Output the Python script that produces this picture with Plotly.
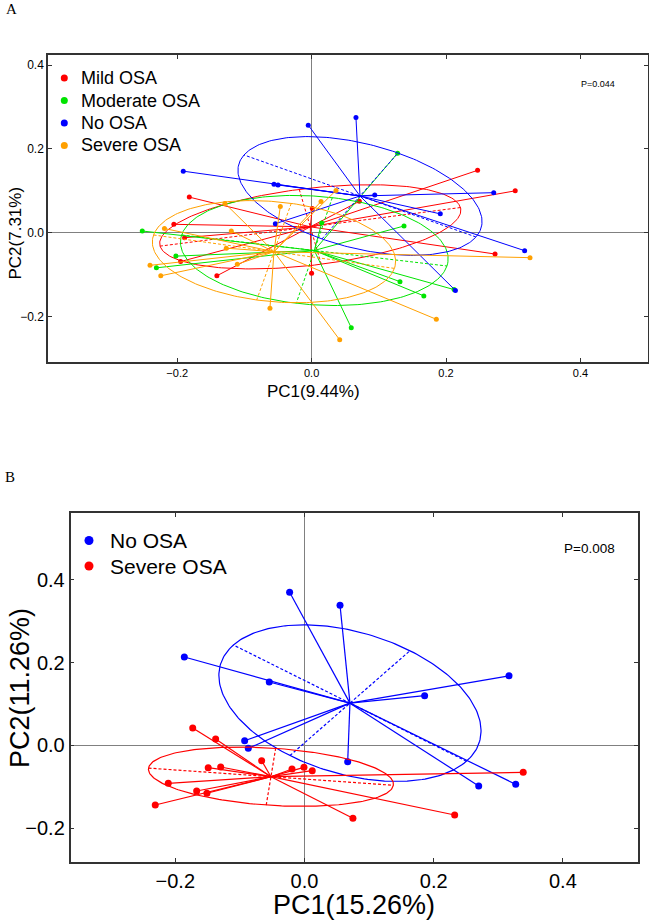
import numpy as np
import plotly.graph_objects as go

W, H = 649, 921

# ---------------- Panel A data ----------------
A_names = ["Mild OSA", "Moderate OSA", "No OSA", "Severe OSA"]
A_colors = ["#FF0000", "#00E400", "#0000FF", "#FFA000"]

A_mild_x = [-0.182, 0.001, 0.071, 0.247, 0.303, -0.205, -0.189, -0.195, -0.141, 0.000, 0.273]
A_mild_y = [0.085, 0.058, 0.075, 0.149, 0.100, 0.020, -0.012, -0.069, -0.103, -0.097, -0.051]
A_mod_x = [-0.252, -0.202, -0.231, 0.015, 0.128, 0.1375, 0.1315, 0.167, 0.059, 0.212]
A_mod_y = [0.004, -0.056, -0.084, 0.023, 0.190, 0.016, -0.117, -0.151, -0.227, -0.136]
A_no_x = [-0.005, 0.066, -0.191, -0.056, -0.050, -0.054, 0.094, 0.1915, 0.271, 0.317, 0.214]
A_no_y = [0.257, 0.275, 0.147, 0.116, 0.114, 0.0215, 0.090, 0.045, 0.0956, -0.043, -0.138]
A_sev_x = [-0.219, -0.2405, -0.2245, -0.129, -0.1195, -0.127, -0.1106, -0.0466, 0.014, 0.0363,
           -0.062, 0.0418, 0.1856, 0.325]
A_sev_y = [0.010, -0.078, -0.103, 0.070, 0.004, -0.037, -0.0755, 0.0626, 0.0746, 0.101,
           -0.1806, -0.256, -0.207, -0.0597]

# group centres and ellipse semi-axis vectors (major u, minor v)
A_centres = [(-0.002, 0.014), (0.004, -0.0425), (0.072, 0.0877), (-0.056, -0.0454)]
A_ell_u = [(-0.2235, -0.0461), (0.1974, -0.0371), (-0.1726, 0.098), (0.1792, -0.0399)]
A_ell_v = [(-0.0164, 0.0894), (-0.0268, -0.1262), (0.0566, 0.1027), (-0.0257, -0.1154)]

# ---------------- Panel B data ----------------
B_names = ["No OSA", "Severe OSA"]
B_colors = ["#0000FF", "#FF0000"]
B_no_x = [-0.023, 0.055, -0.186, -0.0545, 0.3166, 0.186, -0.0926, -0.087, 0.0669, 0.2697, 0.327]
B_no_y = [0.370, 0.339, 0.2135, 0.153, 0.168, 0.120, 0.011, -0.0073, -0.0396, -0.0984, -0.0944]
B_sev_x = [-0.173, -0.1375, -0.0663, -0.149, -0.1297, -0.0193, -0.0008, 0.012, -0.2108, -0.1669,
           -0.151, -0.231, 0.075, 0.2325, 0.3386]
B_sev_y = [0.0418, 0.0152, -0.0372, -0.054, -0.0525, -0.0573, -0.0532, -0.0614, -0.0919, -0.1105,
           -0.116, -0.1444, -0.1766, -0.1686, -0.0653]
B_centres = [(0.0704, 0.102), (-0.0519, -0.0759)]
B_ell_u = [(-0.1804, 0.1406), (0.1895, -0.0208)]
B_ell_v = [(0.0929, 0.1268), (0.0073, 0.0686)]

ticks = [-0.2, 0.0, 0.2, 0.4]

fig = go.Figure()


def add_group(xs, ys, centre, u, v, color, name, xa, ya, msize, lw):
    cx, cy = centre
    t = np.linspace(0, 2 * np.pi, 240)
    ex = cx + u[0] * np.cos(t) + v[0] * np.sin(t)
    ey = cy + u[1] * np.cos(t) + v[1] * np.sin(t)
    common = dict(xaxis=xa, yaxis=ya, showlegend=False, hoverinfo="skip")
    fig.add_trace(go.Scatter(x=ex, y=ey, mode="lines",
                             line=dict(color=color, width=lw), **common))
    axx = [cx - u[0], cx + u[0], None, cx - v[0], cx + v[0]]
    axy = [cy - u[1], cy + u[1], None, cy - v[1], cy + v[1]]
    fig.add_trace(go.Scatter(x=axx, y=axy, mode="lines",
                             line=dict(color=color, width=lw, dash="3px,2px"), **common))
    sx, sy = [], []
    for px, py in zip(xs, ys):
        sx += [cx, px, None]
        sy += [cy, py, None]
    fig.add_trace(go.Scatter(x=sx, y=sy, mode="lines",
                             line=dict(color=color, width=lw), **common))
    fig.add_trace(go.Scatter(x=xs, y=ys, mode="markers", name=name,
                             marker=dict(color=color, size=msize), **common))


A_data = [(A_mild_x, A_mild_y), (A_mod_x, A_mod_y), (A_no_x, A_no_y), (A_sev_x, A_sev_y)]
for i, (xs, ys) in enumerate(A_data):
    add_group(xs, ys, A_centres[i], A_ell_u[i], A_ell_v[i], A_colors[i], A_names[i],
              "x", "y", 5, 1)

B_data = [(B_no_x, B_no_y), (B_sev_x, B_sev_y)]
for i, (xs, ys) in enumerate(B_data):
    add_group(xs, ys, B_centres[i], B_ell_u[i], B_ell_v[i], B_colors[i], B_names[i],
              "x2", "y2", 7, 1.2)

FONT = "Liberation Sans, Arial, sans-serif"


def axis(domain, rng, tfs, anchor):
    return dict(domain=domain, range=rng, anchor=anchor,
                tickvals=ticks, tickformat=".1f",
                ticks="inside", ticklen=4, tickcolor="#333",
                showline=True, linecolor="#333", linewidth=1.5, mirror="ticks",
                showgrid=False, zeroline=True, zerolinecolor="#808080", zerolinewidth=1,
                tickfont=dict(family=FONT, size=tfs, color="black"))


def note(text, x, y, size, family=FONT, angle=0, xanchor="center"):
    return dict(text=text, x=x / W, y=1 - y / H, xref="paper", yref="paper",
                xanchor=xanchor, yanchor="middle", showarrow=False, textangle=angle,
                font=dict(family=family, size=size, color="black"))


SERIF = "Liberation Serif, Times New Roman, serif"
annotations = [
    note("A", 4, 9, 15, SERIF, xanchor="left"),
    note("B", 3, 477, 15, SERIF, xanchor="left"),
    note("P=0.044", 597.5, 83.5, 9),
    note("P=0.008", 589, 548, 13.5),
    # axis titles
    note("PC1(9.44%)", 313, 392, 17),
    note("PC2(7.31%)", 14.5, 233, 17, angle=-90),
    note("PC1(15.26%)", 354, 905, 27),
    note("PC2(11.26%)", 20, 688, 27, angle=-90),
]
shapes = []


def add_legend(names, colors, x_dot, x_text, y0, dy, r, fs):
    for k, (nm, col) in enumerate(zip(names, colors)):
        yc = y0 + k * dy
        shapes.append(dict(type="circle", xref="paper", yref="paper",
                           x0=(x_dot - r) / W, x1=(x_dot + r) / W,
                           y0=1 - (yc + r) / H, y1=1 - (yc - r) / H,
                           fillcolor=col, line=dict(color=col, width=0)))
        annotations.append(note(nm, x_text, yc, fs, xanchor="left"))


add_legend(A_names, A_colors, 64.3, 79, 78, 22.5, 3.5, 18)
add_legend(B_names, B_colors, 89, 108, 540.5, 25.5, 4.5, 21)

fig.update_layout(
    width=W, height=H,
    margin=dict(l=0, r=0, t=0, b=0),
    paper_bgcolor="white", plot_bgcolor="white",
    font=dict(family=FONT, color="black"),
    showlegend=False,
    xaxis=axis([48 / W, 648 / W], [-0.3923, 0.5006], 11, "y"),
    yaxis=axis([1 - 362 / H, 1 - 55 / H], [-0.309, 0.4246], 12, "x"),
    xaxis2=axis([70.5 / W, 638 / W], [-0.3622, 0.5163], 20, "y2"),
    yaxis2=axis([1 - 862 / H, 1 - 513 / H], [-0.2822, 0.5618], 20, "x2"),
    annotations=annotations,
    shapes=shapes,
)

fig.write_html("out.html", config={"displayModeBar": False},
               post_script="document.body.style.margin='0';document.body.style.padding='0';")
